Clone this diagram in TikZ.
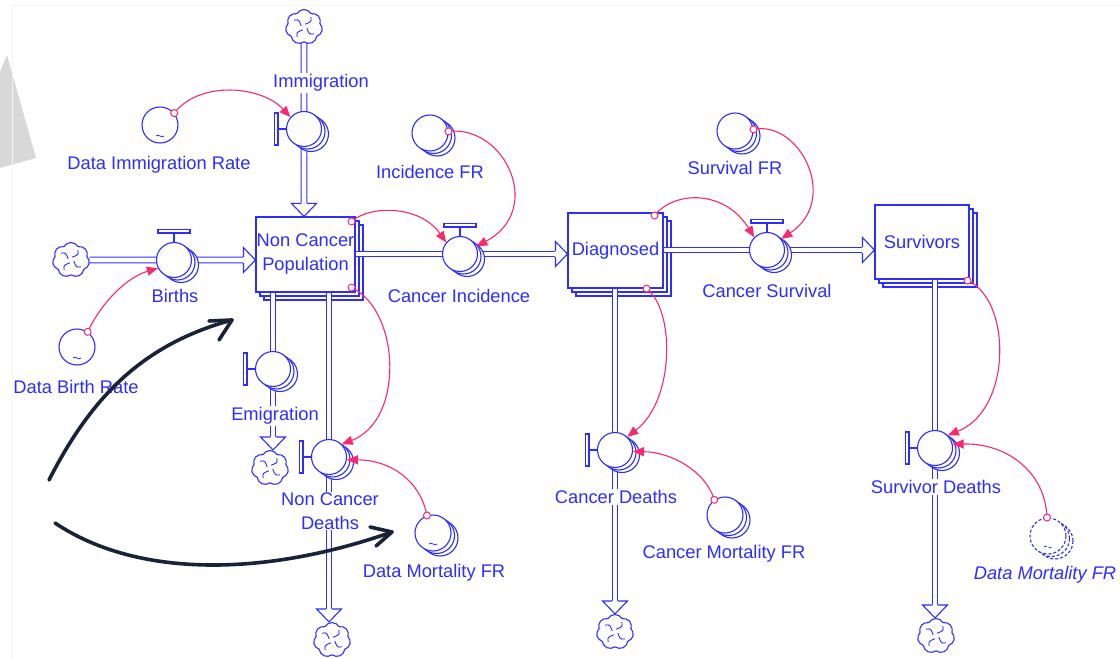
\documentclass[tikz,border=0pt]{standalone}
\usepackage{fontspec}
\setmainfont{Liberation Sans}
\usetikzlibrary{calc,shapes.symbols,arrows.meta}

\definecolor{sb}{RGB}{45,45,255}
\definecolor{pk}{RGB}{250,40,110}
\definecolor{navy}{RGB}{24,34,56}
\definecolor{greyshape}{RGB}{216,216,216}

\pgfdeclarelayer{back}
\pgfdeclarelayer{stocklayer}
\pgfdeclarelayer{pipelayer}
\pgfsetlayers{back,stocklayer,pipelayer,main}

\newcommand\lblfont{\fontsize{18.3}{24}\selectfont}

\tikzset{
  sdm/.style={draw=sb, line width=1.1pt},
  sdstock/.style={sdm, fill=white, rectangle, minimum width=95pt, minimum height=75pt,
    inner sep=0pt, text=sb, font=\lblfont, align=center},
  sdvalve/.style={sdm, fill=white, circle, minimum size=35pt, inner sep=0pt},
  sdconv/.style={sdm, fill=white, circle, minimum size=36pt, inner sep=0pt},
  ghost/.style={dash pattern=on 3pt off 2pt},
  sdcloud/.style={sdm, fill=white, cloud, cloud puffs=7, cloud puff arc=120, aspect=1,
    minimum width=37pt, minimum height=35pt, inner sep=0pt},
  sdpipe/.style={draw=sb, line width=1.1pt, double=white, double distance=4.6pt},
  sdlbl/.style={text=sb, font=\lblfont, fill=white, inner sep=1pt, align=center},
  sdlink/.style={draw=pk, line width=1.1pt, -{Triangle[length=11pt,width=9pt]}},
  sdnote/.style={draw=navy, line width=3.6pt, line cap=round, line join=round},
  headr/.pic={\draw[sdm, fill=white] (-12,-3) -- (-12,-12.5) -- (0,0) -- (-12,12.5) -- (-12,3);},
  headd/.pic={\draw[sdm, fill=white] (-3,-13) -- (-12.5,-13) -- (0,0) -- (12.5,-13) -- (3,-13);},
}

% back layers of a stacked stock: x, y, width, height
\newcommand\stockstack[4]{%
  \foreach \o in {8,4}{\draw[sdm, fill=white] ({#1-#3/2+\o},{#2-#4/2+\o}) rectangle ++(#3,#4);}}

% stacked circles behind an arrayed converter: x, y, extra style
\newcommand\stackcircles[3]{%
  \foreach \o/\p in {7/5,3.5/2.5}{\draw[sdm, fill=white, #3] ({#1+\o},{#2+\p}) circle[radius=18];}}

% flow valve: name, x, y, handle side (t = top, l = left)
\newcommand\valve[4]{%
  \foreach \o/\p in {7/5,3.5/2.5}{\draw[sdm, fill=white] ({#2+\o},{#3+\p}) circle[radius=17.5];}
  \node[sdvalve] (#1) at (#2,#3) {};
  \if#4t
    \draw[sdm] (#1.north) -- ++(0,-9);
    \draw[sdm, fill=white] ($(#1.north)+(-16,-9)$) rectangle ++(32,-3.5);
  \else
    \draw[sdm] (#1.west) -- ++(-8,0);
    \draw[sdm, fill=white] ($(#1.west)+(-8,-16)$) rectangle ++(-3.5,32);
  \fi}

% graphical-function mark inside a converter
\newcommand\wiggle[1]{%
  \draw[sb, line width=0.8pt] ($(#1)+(-4,11)$) .. controls ($(#1)+(-1.5,8)$) and ($(#1)+(1.5,14)$) .. ($(#1)+(4,11)$);}

% inner strokes of a source/sink cloud
\newcommand\swirl[1]{%
  \foreach \a in {20,110,200,290}{\draw[sb, line width=0.9pt] ($(#1)+({\a}:3)$) .. controls ($(#1)+({\a+35}:9)$) .. ($(#1)+({\a+15}:12)$);}}

\begin{document}
\begin{tikzpicture}[x=1pt,y=-1pt]
\useasboundingbox (0,0) rectangle (1120,658);

\begin{pgfonlayer}{back}
  \fill[white] (0,0) rectangle (1120,658);
  \fill[greyshape] (0,72) -- (7,55) -- (36,158) -- (0,168) -- cycle;
  \draw[gray!9, line width=0.8pt] (12,658) -- (12,5) -- (1120,5);
\end{pgfonlayer}

% stocks
\begin{pgfonlayer}{stocklayer}
  \stockstack{305.5}{254.5}{99}{75}
  \node[sdstock, minimum width=99pt] (ncp) at (305.5,254.5) {Non Cancer\\Population};
  \stockstack{615.5}{250.5}{95}{75}
  \node[sdstock] (dg) at (615.5,250.5) {Diagnosed};
  \stockstack{922}{242}{94}{74}
  \node[sdstock, minimum width=94pt, minimum height=74pt] (sv) at (922,242) {Survivors};
\end{pgfonlayer}

% sources and sinks
\node[sdcloud] (imc) at (304,27) {};  \swirl{imc}
\node[sdcloud] (bc) at (71,260) {};   \swirl{bc}
\node[sdcloud] (emc) at (270,468) {}; \swirl{emc}
\node[sdcloud] (ncdc) at (332,640) {}; \swirl{ncdc}
\node[sdcloud] (cdc) at (615,632) {}; \swirl{cdc}
\node[sdcloud] (sdc) at (936,636) {}; \swirl{sdc}

% flows
\valve{imv}{304}{129}{l}
\valve{bv}{174}{260}{t}
\valve{civ}{460}{254}{t}
\valve{csv}{767}{250}{t}
\valve{emv}{273}{369}{l}
\valve{ncdv}{329}{457}{l}
\valve{cdv}{615}{450}{l}
\valve{sdv}{935}{448}{l}

% converters
\node[sdconv] (dir) at (160,125) {}; \wiggle{dir}
\node[sdconv] (dbr) at (77,347) {};  \wiggle{dbr}
\stackcircles{430}{133}{} \node[sdconv] (ifr) at (430,133) {};
\stackcircles{735}{131}{} \node[sdconv] (sfr) at (735,131) {};
\stackcircles{433}{533}{} \node[sdconv] (dmfr) at (433,533) {}; \wiggle{dmfr}
\stackcircles{725}{515}{} \node[sdconv] (cmfr) at (725,515) {};
\stackcircles{1048}{536}{ghost} \node[sdconv, ghost] (dmfrg) at (1048,536) {};
\draw[sb, line width=0.8pt, ghost] ($(dmfrg)+(-4,11)$) .. controls ($(dmfrg)+(-1.5,8)$) and ($(dmfrg)+(1.5,14)$) .. ($(dmfrg)+(4,11)$);

% pipes
\begin{pgfonlayer}{pipelayer}
  \coordinate (imtip) at (imv |- ncp.north);
  \draw[sdpipe] (imc.south) -- ($(imtip)+(0,-13)$);
  \pic at (imtip) {headd};
  \coordinate (btip) at (ncp.west |- bv);
  \draw[sdpipe] (bc.east) -- ($(btip)+(-12,0)$);
  \pic at (btip) {headr};
  \coordinate (citip) at (dg.west |- civ);
  \draw[sdpipe] (ncp.east |- civ) -- ($(citip)+(-12,0)$);
  \pic at (citip) {headr};
  \coordinate (cstip) at (sv.west |- csv);
  \draw[sdpipe] (dg.east |- csv) -- ($(cstip)+(-12,0)$);
  \pic at (cstip) {headr};
  \coordinate (emtip) at (emv |- emc.north);
  \draw[sdpipe] (emv |- ncp.south) -- ($(emtip)+(0,-13)$);
  \pic at (emtip) {headd};
  \coordinate (ncdtip) at (ncdv |- ncdc.north);
  \draw[sdpipe] (ncdv |- ncp.south) -- ($(ncdtip)+(0,-13)$);
  \pic at (ncdtip) {headd};
  \coordinate (cdtip) at (cdv |- cdc.north);
  \draw[sdpipe] (cdv |- dg.south) -- ($(cdtip)+(0,-13)$);
  \pic at (cdtip) {headd};
  \coordinate (sdtip) at (sdv |- sdc.north);
  \draw[sdpipe] (sdv |- sv.south) -- ($(sdtip)+(0,-13)$);
  \pic at (sdtip) {headd};
\end{pgfonlayer}

% labels
\node[sdlbl] (limm) at (321,83) {Immigration};
\node[sdlbl] (ldir) at (159,165) {Data Immigration Rate};
\node[sdlbl] (lbir) at (175,296) {Births};
\node[sdlbl] (ldbr) at (76,387) {Data Birth Rate};
\node[sdlbl] (lifr) at (430,172) {Incidence FR};
\node[sdlbl] (lci) at (459,296) {Cancer Incidence};
\node[sdlbl] (lsfr) at (735,168) {Survival FR};
\node[sdlbl] (lcs) at (767,291) {Cancer Survival};
\node[sdlbl] (lem) at (275,416) {Emigration};
\node[sdlbl] (lncd) at (330,511) {Non Cancer\\Deaths};
\node[sdlbl] (ldmf) at (434,573) {Data Mortality FR};
\node[sdlbl] (lcd) at (616,497) {Cancer Deaths};
\node[sdlbl] (lcmf) at (724,554) {Cancer Mortality FR};
\node[sdlbl] (lsd) at (936,487) {Survivor Deaths};
\node[sdlbl, font=\lblfont\itshape, inner sep=0pt] (ldmg) at (1045,575) {Data Mortality FR};

% information links
\coordinate (ncpA) at ($(ncp.north east)+(-4,5)$);
\coordinate (ncpB) at ($(ncp.south east)+(-4,-5)$);
\coordinate (dgA) at ($(dg.north east)+(-9,3)$);
\coordinate (dgB) at ($(dg.south east)+(-17,0)$);
\coordinate (svA) at ($(sv.south east)+(-2,1)$);
\draw[sdlink] (dir.40) .. controls (200,80) and (262,86) .. (imv.139);
\draw[sdlink] (dbr.55) .. controls (103,300) and (128,277) .. (bv.207);
\draw[sdlink] (ifr.5) .. controls (505,125) and (545,210) .. (civ.25);
\draw[sdlink] (sfr.5) .. controls (800,120) and (840,200) .. (csv.38);
\draw[sdlink] (ncpA) .. controls (370,205) and (420,205) .. (civ.140);
\draw[sdlink] (ncpB) .. controls (400,310) and (405,420) .. (ncdv.45);
\draw[sdlink] (dgA) .. controls (675,190) and (725,190) .. (csv.135);
\draw[sdlink] (dgB) .. controls (675,310) and (675,400) .. (cdv.47);
\draw[sdlink] (svA) .. controls (1012,300) and (1012,410) .. (sdv.45);
\draw[sdlink] (dmfr.109) .. controls (420,480) and (390,460) .. (ncdv.-9);
\draw[sdlink] (cmfr.125) .. controls (705,470) and (670,452) .. (cdv.-5);
\draw[sdlink] (dmfrg.93) .. controls (1045,470) and (1005,443) .. (sdv.12);
\foreach \p in {dir.40, dbr.55, ifr.5, sfr.5, ncpA, ncpB, dgA, dgB, svA, dmfr.109, cmfr.125, dmfrg.93}
  \draw[pk, line width=1pt, fill=white] (\p) circle[radius=3.5];

% hand-drawn pointers
\coordinate (a1s) at (49,480);
\coordinate (a1e) at (232,320);
\draw[sdnote] (a1s) .. controls (90,400) and (140,345) .. (a1e);
\draw[sdnote] (209,321) -- (a1e) -- (219,340);
\coordinate (a2s) at (55,523);
\coordinate (a2e) at (392,532);
\draw[sdnote] (a2s) .. controls (140,580) and (270,575) .. (a2e);
\draw[sdnote] (370,527) -- (a2e) -- (376,546);
\end{tikzpicture}
\end{document}
